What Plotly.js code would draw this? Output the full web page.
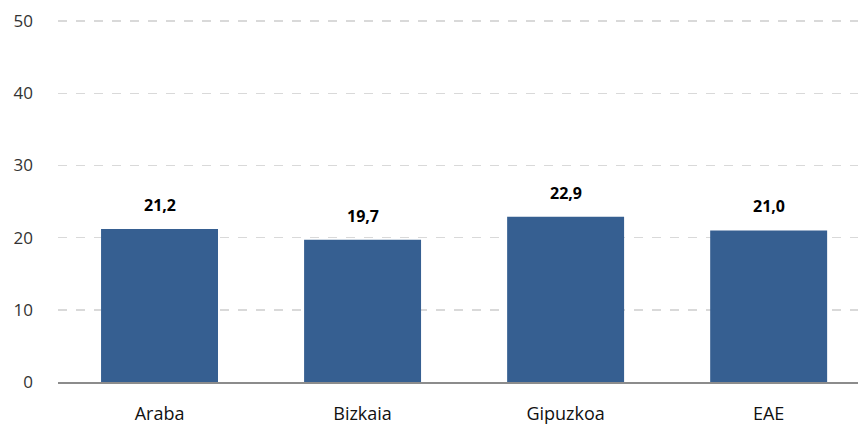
<!DOCTYPE html>
<html><head><meta charset="utf-8">
<script src="https://cdn.plot.ly/plotly-3.0.1.min.js"></script>
<style>html,body{margin:0;padding:0;background:#fff}#chart{width:859px;height:425px}</style>
</head><body><div id="chart"></div>
<script>
const categories = ["Araba", "Bizkaia", "Gipuzkoa", "EAE"];
const values = [21.2, 19.7, 22.9, 21.0];
const labels = ["21,2", "19,7", "22,9", "21,0"];
const yTicks = [0, 10, 20, 30, 40, 50];

const annotations = categories.map((c, i) => ({
  x: c, y: values[i], xref: "x", yref: "y",
  text: "<b>" + labels[i] + "</b>",
  showarrow: false, yanchor: "bottom", yshift: 11,
  font: {family: "Open Sans, sans-serif", size: 16, color: "#000"}
}));

Plotly.newPlot("chart", [{
  type: "bar",
  x: categories,
  y: values,
  marker: {color: "#365F91"},
  hoverinfo: "skip"
}], {
  width: 859, height: 425,
  margin: {l: 58, r: 1, t: 20, b: 43},
  paper_bgcolor: "#fff", plot_bgcolor: "#fff",
  bargap: 0.424,
  showlegend: false,
  annotations: annotations,
  font: {family: "Open Sans, sans-serif", color: "#333"},
  xaxis: {
    range: [-0.5, 3.44],
    showline: true, linecolor: "#8c8c8c", linewidth: 2,
    tickfont: {size: 18, color: "#111"}, ticks: "", showgrid: false,
    ticklabelstandoff: 14
  },
  yaxis: {
    range: [0, 50.15], tickvals: yTicks, ticktext: yTicks.map(String),
    showgrid: true, gridcolor: "#d9d9d9", griddash: "dash", gridwidth: 1.5,
    zeroline: false, showline: false, ticks: "",
    tickfont: {size: 17, color: "#333"}, ticklabelstandoff: 24
  }
}, {displayModeBar: false, staticPlot: true});
</script></body></html>
